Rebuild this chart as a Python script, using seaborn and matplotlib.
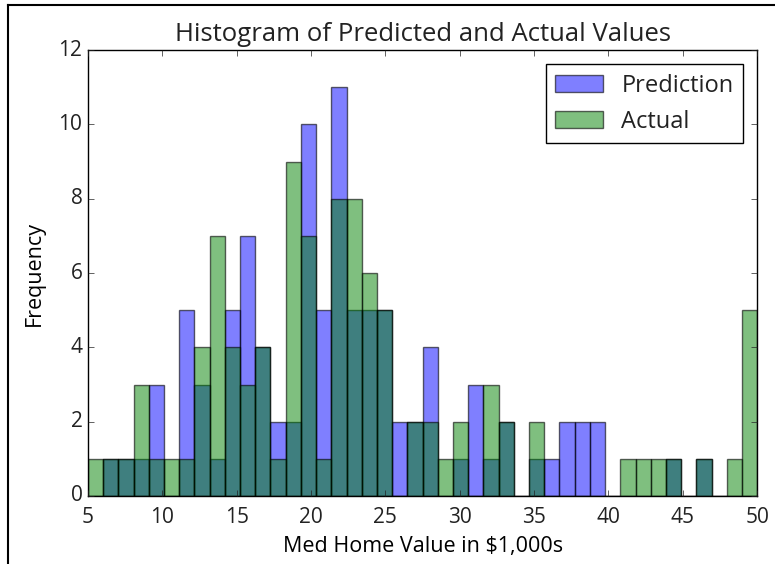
import numpy as np
import pandas as pd
import seaborn as sns
import matplotlib
matplotlib.use('Agg')
import matplotlib.pyplot as plt
from matplotlib.lines import Line2D

# counts per bin (44 equal bins from 5 to 50)
bin_edges = list(np.linspace(5, 50, 45))
pred_counts = [0, 1, 1, 1, 3, 0, 5, 3, 1, 5, 7, 4, 2, 2, 10, 5, 11, 5, 5, 5, 2, 2,
               4, 0, 1, 3, 1, 2, 0, 1, 1, 2, 2, 2, 0, 0, 0, 0, 1, 0, 1, 0, 0, 0]
actual_counts = [1, 1, 1, 3, 1, 1, 1, 4, 7, 4, 3, 4, 1, 9, 7, 1, 8, 8, 6, 5, 0, 2,
                 2, 1, 2, 0, 3, 2, 0, 2, 0, 0, 0, 0, 0, 1, 1, 1, 1, 0, 1, 0, 1, 5]

mids = [(a + b) / 2 for a, b in zip(bin_edges[:-1], bin_edges[1:])]
df = pd.DataFrame({'mid': mids, 'pred': pred_counts, 'actual': actual_counts})

plt.style.use('classic')
plt.rcParams['font.family'] = ['Open Sans', 'DejaVu Sans']
plt.rcParams['text.color'] = '#222222'
plt.rcParams['xtick.color'] = '#222222'
plt.rcParams['ytick.color'] = '#222222'

fig = plt.figure(figsize=(7.75, 5.64), dpi=100)
ax = fig.add_axes([0.1135, 0.1206, 0.8635, 0.7905])

sns.histplot(data=df, x='mid', weights='pred', bins=bin_edges, color='blue',
             alpha=0.5, edgecolor=(0, 0, 0, 0.6), linewidth=1, label='Prediction', ax=ax)
sns.histplot(data=df, x='mid', weights='actual', bins=bin_edges, color='green',
             alpha=0.5, edgecolor=(0, 0, 0, 0.6), linewidth=1, label='Actual', ax=ax)

ax.set_xlim(5, 50)
ax.set_ylim(0, 12)
ax.set_xticks(range(5, 51, 5))
ax.set_yticks(range(0, 13, 2))
ax.tick_params(labelsize=15)
ax.tick_params(axis='x', pad=8)
ax.set_title('Histogram of Predicted and Actual Values', fontsize=18.5, y=1.005)
ax.set_xlabel('Med Home Value in $1,000s', fontsize=15.5, labelpad=6)
ax.set_ylabel('Frequency', fontsize=15.5, labelpad=10)
ax.legend(loc='upper right', fontsize=17, borderaxespad=0.6)

# screenshot border on the top and left
fig.add_artist(Line2D([8 / 775, 8 / 775], [0, 1 - 5 / 564], color='black', linewidth=1.5))
fig.add_artist(Line2D([8 / 775, 1], [1 - 5 / 564, 1 - 5 / 564], color='black', linewidth=1.5))

plt.savefig('out.png', dpi=100, facecolor='white')
